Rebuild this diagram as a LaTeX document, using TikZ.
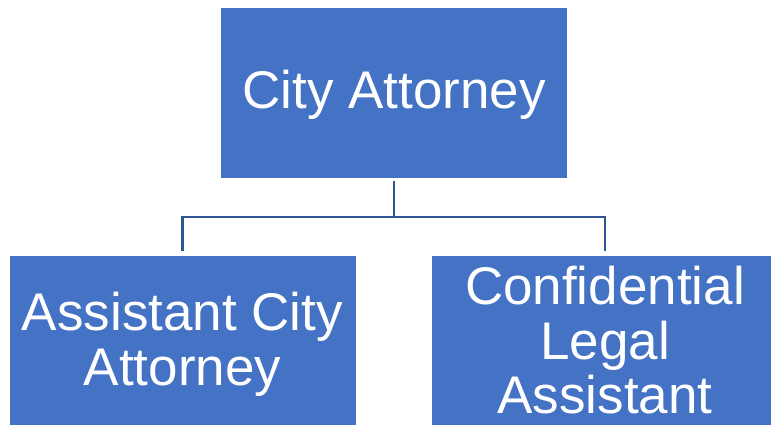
\documentclass[tikz,border=0pt]{standalone}
\usepackage{fontspec}
\setmainfont{Liberation Sans}
\definecolor{boxblue}{HTML}{4472C4}
\definecolor{linkblue}{HTML}{2F5597}
\begin{document}
\begin{tikzpicture}[x=1pt,y=-1pt,
  orgbox/.style={rectangle, fill=boxblue, draw=white, line width=0.8pt, inner sep=0pt,
    minimum width=347pt, minimum height=171pt},
  boxtext/.style={text=white, align=center, inner sep=0pt,
    font=\fontsize{53}{54.5}\selectfont},
  conn/.style={draw=linkblue, line width=2.2pt}]
\clip (0,0) rectangle (771,425);
\fill[white] (0,0) rectangle (771,425);
\node[orgbox] (top) at (394,92.5) {};
\node[orgbox] (left) at (182.5,340.5) {};
\node[orgbox] (right) at (605,340.5) {};
\node[boxtext] (toptext) at ([yshift=-2pt]top.center) {City Attorney};
\node[boxtext] (lefttext) at ([yshift=-4pt]left.center) {Assistant City\\Attorney};
\node[boxtext] (righttext) at (right.center) {Confidential\\Legal\\Assistant};
\coordinate (tstart) at ([yshift=-3pt]top.south);
\coordinate (lend) at ([yshift=4pt]left.north);
\coordinate (rend) at ([yshift=4pt]right.north);
\draw[conn] (tstart) -- (394,217) -| (lend);
\draw[conn] (394,217) -| (rend);
\end{tikzpicture}
\end{document}
